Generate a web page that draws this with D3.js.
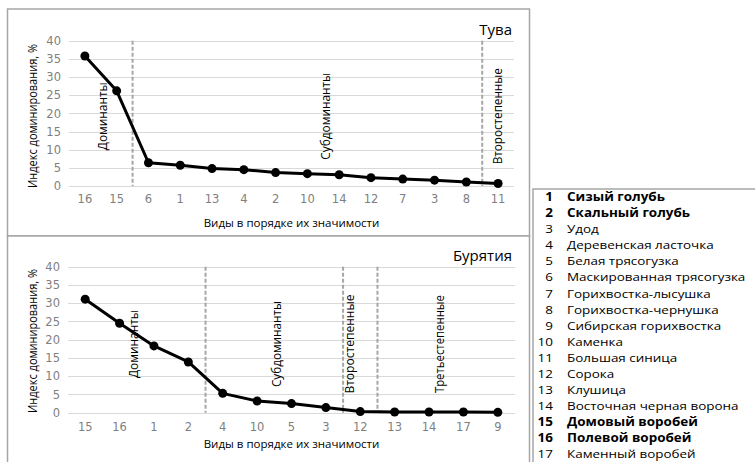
<!DOCTYPE html>
<html><head><meta charset="utf-8">
<script src="https://cdn.jsdelivr.net/npm/d3@7"></script>
<style>
html,body{margin:0;padding:0;background:#fff;}
svg{display:block;}
</style></head>
<body>
<svg id="chart" width="755" height="462"></svg>
<script>
// ---------- DATA ----------
const tuvaSpecies = [16, 15, 6, 1, 13, 4, 2, 10, 14, 12, 7, 3, 8, 11];
const tuvaValues  = [35.8, 26.2, 6.4, 5.7, 4.8, 4.5, 3.7, 3.4, 3.1, 2.3, 1.9, 1.6, 1.1, 0.7];
const tuvaBoundaries = [2, 13];            // dashed line before these category indices
const tuvaGroupNames = ["Доминанты", "Субдоминанты", "Второстепенные"];

const buryatiaSpecies = [15, 16, 1, 2, 4, 10, 5, 3, 12, 13, 14, 17, 9];
const buryatiaValues  = [31.1, 24.5, 18.3, 13.9, 5.3, 3.2, 2.5, 1.4, 0.3, 0.2, 0.2, 0.2, 0.1];
const buryatiaBoundaries = [4, 8, 9];
const buryatiaGroupNames = ["Доминанты", "Субдоминанты", "Второстепенные", "Третьестепенные"];

const yTicks = [0, 5, 10, 15, 20, 25, 30, 35, 40];
const regionNames = ["Тува", "Бурятия"];
const xAxisTitle = "Виды в порядке их значимости";
const yAxisTitle = "Индекс доминирования, %";

const legendNumbers = [1,2,3,4,5,6,7,8,9,10,11,12,13,14,15,16,17];
const legendNames = ["Сизый голубь","Скальный голубь","Удод","Деревенская ласточка","Белая трясогузка",
  "Маскированная трясогузка","Горихвостка-лысушка","Горихвостка-чернушка","Сибирская горихвостка",
  "Каменка","Большая синица","Сорока","Клушица","Восточная черная ворона","Домовый воробей",
  "Полевой воробей","Каменный воробей"];
const boldSpecies = [1, 2, 15, 16];

// ---------- LAYOUT ----------
const svg = d3.select("#chart");
const FONT = "'Open Sans', sans-serif";
const TICKFONT = "'DejaVu Sans', sans-serif";
const borderColor = "#a6a6a6";

const panels = [
  { species: tuvaSpecies, values: tuvaValues, bounds: tuvaBoundaries, groups: tuvaGroupNames,
    title: regionNames[0], box: [7.5, 9, 522, 227],
    xr: [69, 514], yr: [186, 40.7],
    labelX: [0.55, 7.55, 12.95], labelY: 19.2, labelLen: [68, 87, 96],
    yTitleY: 116, xTickY: 199, xTitleY: 222, titleY: 29 },
  { species: buryatiaSpecies, values: buryatiaValues, bounds: buryatiaBoundaries, groups: buryatiaGroupNames,
    title: regionNames[1], box: [7.5, 236, 522, 240],
    xr: [68, 515], yr: [412.7, 266.7],
    labelX: [1.4, 5.55, 7.67, 10.3], labelY: 18.8, labelLen: [68, 86, 99, 98],
    yTitleY: 341, xTickY: 427, xTitleY: 443, titleY: 255 }
];

panels.forEach(p => {
  const [bx, by, bw, bh] = p.box;
  svg.append("rect").attr("x", bx).attr("y", by).attr("width", bw).attr("height", bh)
    .attr("fill", "#fff").attr("stroke", borderColor).attr("stroke-width", 1.5);
});
// legend box
svg.append("rect").attr("x", 533).attr("y", 189).attr("width", 240).attr("height", 300)
  .attr("fill", "#fff").attr("stroke", borderColor).attr("stroke-width", 1.5);

panels.forEach(p => {
  const idx = p.species.map((d, i) => i);
  const x = d3.scaleBand().domain(idx).range(p.xr);
  const y = d3.scaleLinear().domain([0, 40]).range(p.yr);
  const cx = i => x(i) + x.bandwidth() / 2;
  const fx = f => p.xr[0] + (f + 0.5) * x.bandwidth();

  // gridlines
  const g = svg.append("g");
  g.selectAll("line.grid").data(yTicks).join("line")
    .attr("x1", p.xr[0]).attr("x2", p.xr[1])
    .attr("y1", d => Math.round(y(d)) + 0.5).attr("y2", d => Math.round(y(d)) + 0.5)
    .attr("stroke", "#d9d9d9").attr("stroke-width", 1);

  // y axis
  const yAxis = d3.axisLeft(y).tickValues(yTicks).tickSize(0).tickPadding(0);
  const ya = svg.append("g").attr("transform", `translate(${p.xr[0] - 8},0)`).call(yAxis);
  ya.select(".domain").remove();
  ya.selectAll("text").attr("font-family", TICKFONT).attr("font-size", 11.5).attr("fill", "#7f7f7f");

  // x axis
  const xAxis = d3.axisBottom(x).tickFormat(i => p.species[i]).tickSize(0).tickPadding(0);
  const xa = svg.append("g").attr("transform", `translate(0,${p.xTickY})`).call(xAxis);
  xa.select(".domain").remove();
  xa.selectAll("text").attr("font-family", TICKFONT).attr("font-size", 11.5).attr("fill", "#7f7f7f")
    .attr("dy", "0.35em");

  // dashed group boundaries
  svg.append("g").selectAll("line").data(p.bounds).join("line")
    .attr("x1", b => x(b)).attr("x2", b => x(b))
    .attr("y1", y(40)).attr("y2", y(0))
    .attr("stroke", "#a6a6a6").attr("stroke-width", 2).attr("stroke-dasharray", "4,2");

  // line
  const line = d3.line().x((d, i) => cx(i)).y(d => y(d));
  svg.append("path").datum(p.values).attr("d", line)
    .attr("fill", "none").attr("stroke", "#000").attr("stroke-width", 3).attr("stroke-linejoin", "round");
  svg.append("g").selectAll("circle").data(p.values).join("circle")
    .attr("cx", (d, i) => cx(i)).attr("cy", d => y(d)).attr("r", 4.5).attr("fill", "#000");

  // group labels
  p.groups.forEach((name, k) => {
    const lx = fx(p.labelX[k]), ly = y(p.labelY);
    svg.append("text").text(name)
      .attr("transform", `translate(${lx},${ly}) rotate(-90)`)
      .attr("text-anchor", "middle").attr("dominant-baseline", "central")
      .attr("textLength", p.labelLen[k]).attr("lengthAdjust", "spacingAndGlyphs")
      .attr("font-family", FONT).attr("font-size", 13.5).attr("fill", "#000");
  });

  // region title
  svg.append("text").text(p.title).attr("x", 512).attr("y", p.titleY)
    .attr("text-anchor", "end").attr("dominant-baseline", "central")
    .attr("font-family", FONT).attr("font-size", 15).attr("fill", "#000");

  // axis titles
  svg.append("text").text(xAxisTitle).attr("x", (p.xr[0] + p.xr[1]) / 2).attr("y", p.xTitleY)
    .attr("text-anchor", "middle").attr("dominant-baseline", "central")
    .attr("font-family", FONT).attr("font-size", 11.5).attr("fill", "#000");
  svg.append("text").text(yAxisTitle)
    .attr("transform", `translate(32,${p.yTitleY}) rotate(-90)`)
    .attr("text-anchor", "middle").attr("dominant-baseline", "central")
    .attr("textLength", 144).attr("lengthAdjust", "spacingAndGlyphs")
    .attr("font-family", FONT).attr("font-size", 12).attr("fill", "#000");
});

// legend
const ly = d3.scalePoint().domain(legendNumbers).range([197, 454]);
const lg = svg.append("g");
const LS = 1.16; // horizontal stretch of legend text
legendNumbers.forEach((n, i) => {
  const bold = boldSpecies.includes(n);
  lg.append("text").text(n)
    .attr("transform", `translate(553,${ly(n)}) scale(${LS},1)`)
    .attr("text-anchor", "end").attr("dominant-baseline", "central")
    .attr("font-family", FONT).attr("font-size", 11.6).attr("font-weight", bold ? 700 : 400).attr("fill", "#000");
  lg.append("text").text(legendNames[i])
    .attr("transform", `translate(567,${ly(n)}) scale(${LS},1)`)
    .attr("dominant-baseline", "central")
    .attr("font-family", FONT).attr("font-size", 11.6).attr("font-weight", bold ? 700 : 400).attr("fill", "#000");
});
</script>
</body></html>
